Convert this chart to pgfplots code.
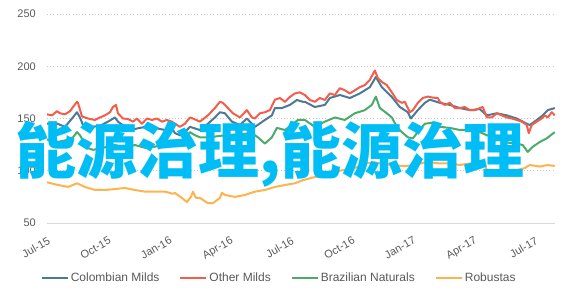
\documentclass[border=0pt]{standalone}
\usepackage{pgfplots}
\pgfplotsset{compat=1.18}
\usepackage{pgfplotstable}
\usepackage{fontspec}
\setmainfont{Liberation Sans}
\newfontfamily\cjk{Noto Sans CJK SC}
\definecolor{cmild}{HTML}{4E7994}
\definecolor{omild}{HTML}{F45D4C}
\definecolor{bnat}{HTML}{4DAA6B}
\definecolor{robu}{HTML}{FDB44E}
\definecolor{txt}{HTML}{595959}
\definecolor{grd}{HTML}{C8C8C8}
\definecolor{axl}{HTML}{D9D9D9}
\definecolor{wm}{HTML}{00BEF5}

\pgfplotstableread{
px v
47 154
52 153
57 157
60 155
65 154
70 157
73 161
77 166
78 165
82 152
88 150
95 148.6
100 151
105 153
110 156
113 161
116 163
118 155
123 150
128 149.5
133 147
137 150
142 145
147 150
152 148.6
157 150
162 147
167 148.6
172 147
175 145
180 142
185 145
190 151
193 150
200 147
208 153
215 160
220 166
223 165
228 160
233 155
240 151
247 158
252 151
255 150
260 155
265 156
270 158
275 168
280 169.6
285 166
290 170.6
295 174
300 175
305 172.5
310 167.7
315 166
320 169.6
325 167.7
330 174
335 172.5
340 179
345 177
350 174
355 177
360 180
365 182
370 187
375 196
378 188.7
382 185
387 182
392 175
397 167.7
402 165
405 166
410 156
413 158
418 165
423 169.6
428 171
433 170
438 169.6
440 166
445 163
450 165
455 160
460 160
465 161
470 158
475 158
480 160
483 161
487 151
492 151
497 155
502 153
507 151
512 150
517 148.6
522 147
527 143.8
529 136
532 143.8
537 147
542 150
545 153
548 151
552 156
555 153
}\othermilds

\pgfplotstableread{
px v
47 145
55 146
65 142
72 150
77 156
80 151
83 143.8
92 142
100 143
108 147
115 151
118 147
125 142
135 140
145 142
155 141
165 139
173 139
175 136
180 134
185 137
190 142
200 139
208 145
215 151
220 156
225 155
232 147
240 143.8
247 150
255 142
265 148.6
272 153
275 160
282 160
290 163
297 167.7
303 166
305 166
315 161
325 163
330 169.6
340 172.5
350 169.6
360 174
370 180
376 189.7
382 180
392 170.6
400 161
408 156
411 150
418 158
425 165
430 168
440 165
450 163
460 160
470 158
480 159
487 153
497 155
507 153
517 150
527 145
530 143.8
537 148.6
543 153
548 158
555 160
}\colombian

\pgfplotstableread{
px v
47 130
55 127
65 129
73 132
77 137
80 134
87 122
93 120
103 122
115 124.6
125 122
135 124.6
145 122
155 123
165 126
173 126
175 127.5
180 124.6
190 137
195 134
200 132
210 132
225 134
240 135
252 136
258 132
265 126
272 132
277 141
285 139
292 143.8
298 148.6
305 148.6
315 142
325 147
335 151
345 148.6
355 155
365 158
372 163
376 171
380 160
387 155
392 151
397 142
402 137
408 132
413 131
418 137
425 145
433 146
440 142
450 141
460 139
470 139
480 137
487 134
497 131
507 127
517 126
523 124.6
528 118
533 123
540 127.5
547 131
555 137
}\brazilian

\pgfplotstableread{
px v
47 89
58 86.4
68 84.5
77 88
85 84.5
95 81.6
105 81.6
115 82.5
125 83.5
135 81.6
145 80
155 80
165 80
173 78
175 78.7
182 74
187 70
191 75
193 80
196 74
200 74
208 69
213 69
220 74
222 79
225 76.8
235 75
245 76.8
255 80
265 81.6
275 84.5
285 86.4
295 88
303 91
315 94
325 96
335 99
345 101
355 102.6
365 107
375 108
385 106.5
395 105
405 104.5
415 105.5
425 108
430 108
440 107
450 107
460 105.5
470 107
480 105.5
485 107
487 100.7
497 99
507 99
517 100.7
525 102.6
530 105.5
540 104
548 105.5
555 104.5
}\robustas

\begin{document}
\begin{tikzpicture}
\useasboundingbox (0,0) rectangle (575pt,293pt);
\begin{axis}[
  at={(47pt,70pt)}, anchor=south west,
  scale only axis, width=508pt, height=209pt,
  xmin=0, xmax=25, ymin=50, ymax=250,
  axis line style={draw=none},
  tick style={draw=none},
  major tick length=0pt,
  xtick={0,3,6,9,12,15,18,21,24},
  xticklabels={Jul-15,Oct-15,Jan-16,Apr-16,Jul-16,Oct-16,Jan-17,Apr-17,Jul-17},
  xticklabel style={rotate=30, anchor=north east, inner sep=0pt,
    font=\fontsize{11}{13}\selectfont, text=txt},
  xticklabel shift=13pt,
  ytick={100,150,200,250},
  extra y ticks={50},
  yticklabel style={anchor=east, inner sep=0pt,
    font=\fontsize{11}{13}\selectfont, text=txt},
  yticklabel shift=11pt,
  /pgf/number format/assume math mode=true,
  ymajorgrids,
  major grid style={dash pattern=on 1pt off 2.2pt, draw=grd, line width=1pt},
  extra y tick style={grid=major, major grid style={solid, draw=axl, line width=1pt}},
  legend style={at={(0.457,-0.265)}, anchor=center, draw=none, fill=none,
    legend columns=4, font=\fontsize{12}{14}\selectfont, text=txt,
    /tikz/every even column/.append style={column sep=18pt}},
  legend cell align=left,
  legend image code/.code={\draw[#1, line width=2pt] (0pt,0pt) -- (26pt,0pt);},
  every axis plot/.append style={line width=2pt, line join=round},
]
\addplot[cmild] table[x expr={(\thisrow{px}-47)/20.33}, y=v] {\colombian};
\addlegendentry{Colombian Milds}
\addplot[omild] table[x expr={(\thisrow{px}-47)/20.33}, y=v] {\othermilds};
\addlegendentry{Other Milds}
\addplot[bnat] table[x expr={(\thisrow{px}-47)/20.33}, y=v] {\brazilian};
\addlegendentry{Brazilian Naturals}
\addplot[robu] table[x expr={(\thisrow{px}-47)/20.33}, y=v] {\robustas};
\addlegendentry{Robustas}
\end{axis}
\node[anchor=west, inner sep=0pt, text=wm] at (15pt,139pt)
  {\cjk\bfseries\fontsize{61}{61}\selectfont 能源治理,能源治理};
\end{tikzpicture}
\end{document}
